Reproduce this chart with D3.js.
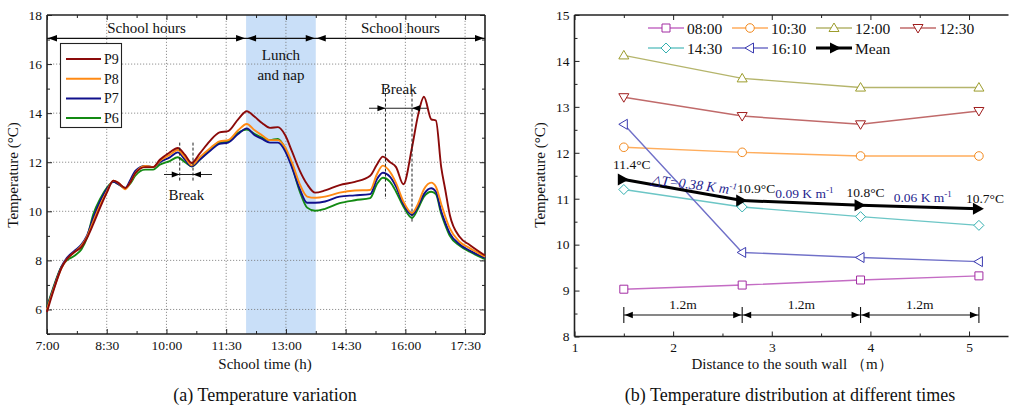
<!DOCTYPE html>
<html>
<head>
<meta charset="utf-8">
<script src="https://cdn.jsdelivr.net/npm/d3@7"></script>
<style>
  body { margin: 0; background: #fff; }
  svg text { font-family: "Liberation Serif", "Times New Roman", serif; fill: #111; }
</style>
</head>
<body>
<div id="chart"></div>
<script>
// ---- (a) temperature variation, minutes after 7:00 ----
const timeMin = [0, 9, 22, 30, 42, 52, 60, 70, 80, 90, 100, 108, 118, 126, 133, 148, 160, 170, 185, 197,
  208, 218, 230, 245, 260, 273, 288, 301, 313, 324, 336, 348, 359, 369, 381, 392, 404, 419, 441, 464,
  487, 497, 506, 517, 526, 537, 550, 559, 568, 579, 586, 594, 600, 607, 622, 637, 660];
const p9 = [5.9, 6.7, 7.7, 8.05, 8.35, 8.55, 8.9, 9.5, 10.15, 10.75, 11.25, 11.15, 10.95, 11.2, 11.55, 11.8, 11.8, 12.1, 12.4, 12.58,
  12.3, 11.97, 12.35, 12.85, 13.22, 13.27, 13.75, 14.08, 13.85, 13.6, 13.4, 13.43, 13.1, 12.45, 11.65, 11.1, 10.76, 10.85, 11.07, 11.2,
  11.45, 11.9, 12.23, 12.0, 11.8, 11.1, 12.6, 13.9, 14.67, 13.75, 13.7, 11.8, 10.9, 9.85, 8.95, 8.63, 8.2];
const p8 = [6.0, 6.75, 7.7, 8.05, 8.35, 8.6, 8.95, 9.6, 10.25, 10.8, 11.25, 11.15, 10.9, 11.2, 11.55, 11.85, 11.8, 12.05, 12.3, 12.5,
  12.2, 11.87, 12.2, 12.55, 12.85, 12.9, 13.3, 13.56, 13.3, 13.1, 12.9, 12.9, 12.6, 12.0, 11.1, 10.6, 10.55, 10.6, 10.76, 10.85,
  10.87, 11.5, 11.86, 11.6, 11.15, 10.4, 9.93, 10.3, 10.9, 11.17, 11.0, 10.3, 9.8, 9.3, 8.75, 8.5, 8.15];
const p7 = [6.05, 6.8, 7.75, 8.1, 8.4, 8.65, 9.0, 9.75, 10.4, 10.9, 11.2, 11.1, 10.95, 11.3, 11.65, 11.85, 11.8, 12.0, 12.2, 12.4,
  12.1, 11.83, 12.1, 12.45, 12.75, 12.8, 13.15, 13.38, 13.1, 12.95, 12.8, 12.8, 12.45, 11.8, 10.9, 10.35, 10.35, 10.4, 10.6, 10.65,
  10.7, 11.3, 11.57, 11.4, 11.0, 10.3, 9.85, 10.2, 10.7, 10.94, 10.8, 10.0, 9.55, 9.1, 8.65, 8.4, 8.1];
const p6 = [6.1, 6.85, 7.75, 8.0, 8.2, 8.45, 8.9, 9.9, 10.5, 10.95, 11.2, 11.1, 10.95, 11.15, 11.45, 11.7, 11.7, 11.9, 12.05, 12.2,
  12.0, 11.83, 12.1, 12.5, 12.8, 12.85, 13.2, 13.33, 13.15, 13.0, 12.9, 12.95, 12.55, 11.85, 10.8, 10.15, 10.02, 10.1, 10.33, 10.45,
  10.54, 11.1, 11.37, 11.2, 10.8, 10.2, 9.73, 10.1, 10.6, 10.8, 10.7, 9.9, 9.45, 9.0, 8.6, 8.35, 8.05];
const seriesNames = ['P9', 'P8', 'P7', 'P6'];
const seriesColors = ['#8b0a0a', '#ff8a14', '#10108c', '#138a13'];
const xTicksA = [0, 90, 180, 270, 360, 450, 540, 630];
const yTicksA = [6, 8, 10, 12, 14, 16, 18];
const periods = [[0, 300, 'School hours'], [300, 405, 'Lunch'], [405, 660, 'School hours']];
const breaks = [[200, 220], [510, 550]];

// ---- (b) temperature distribution ----
const distance = [1.5, 2.7, 3.9, 5.1];
const t0800 = [9.03, 9.12, 9.23, 9.32];
const t1030 = [12.12, 12.01, 11.93, 11.93];
const t1200 = [14.12, 13.62, 13.42, 13.42];
const t1230 = [13.21, 12.8, 12.62, 12.91];
const t1430 = [11.2, 10.82, 10.61, 10.42];
const t1610 = [12.62, 9.83, 9.72, 9.63];
const tMean = [11.42, 10.96, 10.86, 10.78];
const meanLabels = ['11.4°C', '10.9°C', '10.8°C', '10.7°C'];
const gradLabels = ['0.38', '0.09', '0.06'];
const xTicksB = [1, 2, 3, 4, 5];
const yTicksB = [8, 9, 10, 11, 12, 13, 14, 15];

const W = 1009, H = 408;
const svg = d3.select('#chart').append('svg').attr('width', W).attr('height', H);
svg.append('rect').attr('width', W).attr('height', H).attr('fill', '#fff');

function tri(g, x, y, dir, len, half, fill) {
  // arrow head with tip at x,y ; dir 1 = right, -1 = left
  g.append('path')
    .attr('d', `M${x},${y}L${x - dir * len},${y - half}L${x - dir * len},${y + half}Z`)
    .attr('fill', fill || '#000');
}

function frameAxes(g, x, y, xt, yt, xfmt, minorX, minorY, opts) {
  const [x0, x1] = x.range(), [y0, y1] = y.range();
  const ax = g.append('g').attr('class', 'axes');
  const bottom = d3.axisBottom(x).tickValues(xt).tickSize(-5).tickPadding(6).tickFormat(xfmt);
  const left = d3.axisLeft(y).tickValues(yt).tickSize(-5).tickPadding(5).tickFormat(d3.format('d'));
  ax.append('g').attr('transform', `translate(0,${y0})`).call(bottom);
  ax.append('g').attr('transform', `translate(0,${y0})`).call(d3.axisBottom(x).tickValues(minorX).tickSize(-3).tickFormat(''));
  ax.append('g').attr('transform', `translate(${x0},0)`).call(left);
  ax.append('g').attr('transform', `translate(${x0},0)`).call(d3.axisLeft(y).tickValues(minorY).tickSize(-3).tickFormat(''));
  ax.append('g').attr('transform', `translate(0,${y1})`).call(d3.axisTop(x).tickValues(xt).tickSize(-5).tickFormat(''));
  ax.append('g').attr('transform', `translate(0,${y1})`).call(d3.axisTop(x).tickValues(minorX).tickSize(-3).tickFormat(''));
  if (opts.right) {
    ax.append('g').attr('transform', `translate(${x1},0)`).call(d3.axisRight(y).tickValues(yt).tickSize(-5).tickFormat(''));
    ax.append('g').attr('transform', `translate(${x1},0)`).call(d3.axisRight(y).tickValues(minorY).tickSize(-3).tickFormat(''));
  }
  ax.selectAll('.domain').remove();
  ax.selectAll('.tick line').attr('stroke', '#222').attr('stroke-width', 1);
  ax.selectAll('.tick text').attr('font-size', 13.5).attr('fill', '#111')
    .style('font-family', '"Liberation Serif", "Times New Roman", serif');
  const f = g.append('g').attr('fill', 'none').attr('stroke', '#222').attr('stroke-width', 1.6);
  f.append('line').attr('x1', x0).attr('x2', x1).attr('y1', y0).attr('y2', y0);
  f.append('line').attr('x1', x0).attr('x2', x1).attr('y1', y1).attr('y2', y1);
  f.append('line').attr('x1', x0).attr('x2', x0).attr('y1', y0).attr('y2', y1);
  if (opts.right) f.append('line').attr('x1', x1).attr('x2', x1).attr('y1', y0).attr('y2', y1);
}

// ================= (a) =================
const gA = svg.append('g');
const xA = d3.scaleLinear().domain([0, 660]).range([47, 485]);
const yA = d3.scaleLinear().domain([5, 18]).range([334, 15]);

// lunch shading
gA.append('rect').attr('x', xA(300)).attr('y', yA(18)).attr('width', xA(405) - xA(300))
  .attr('height', yA(5) - yA(18)).attr('fill', '#c9dff8');

// grid
const grid = gA.append('g').attr('stroke', '#777').attr('stroke-width', 0.8).attr('stroke-dasharray', '1.2,1.8');
xTicksA.filter(d => d > 0).forEach(d => grid.append('line').attr('x1', xA(d)).attr('x2', xA(d)).attr('y1', yA(5)).attr('y2', yA(18)));
yTicksA.filter(d => d < 18).forEach(d => grid.append('line').attr('x1', xA(0)).attr('x2', xA(660)).attr('y1', yA(d)).attr('y2', yA(d)));

const fmtTime = m => `${Math.floor(7 + m / 60)}:${String(m % 60).padStart(2, '0')}`;
frameAxes(gA, xA, yA, xTicksA, yTicksA, fmtTime,
  [45, 135, 225, 315, 405, 495, 585], [5, 7, 9, 11, 13, 15, 17], { right: true });

// period arrows
const yPer = yA(17.05);
gA.append('line').attr('x1', xA(0)).attr('x2', xA(660)).attr('y1', yPer).attr('y2', yPer)
  .attr('stroke', '#111').attr('stroke-width', 1.2);
periods.forEach(p => {
  tri(gA, xA(p[0]) + 1, yPer, -1, 9, 3.2);
  tri(gA, xA(p[1]) - 1, yPer, 1, 9, 3.2);
  if (p[2] === 'School hours') {
    gA.append('text').attr('x', xA((p[0] + p[1]) / 2)).attr('y', 33).attr('text-anchor', 'middle')
      .attr('font-size', 15).text(p[2]);
  } else {
    gA.append('text').attr('x', xA((p[0] + p[1]) / 2)).attr('y', 60).attr('text-anchor', 'middle')
      .attr('font-size', 15).text('Lunch');
    gA.append('text').attr('x', xA((p[0] + p[1]) / 2)).attr('y', 80).attr('text-anchor', 'middle')
      .attr('font-size', 15).text('and nap');
  }
});

// lines
const lineA = d3.line().x((d, i) => xA(timeMin[i])).y(d => yA(d)).curve(d3.curveMonotoneX);
const seriesA = [p9, p8, p7, p6];
[p6, p7, p8, p9].forEach(s => {
  const i = seriesA.indexOf(s);
  gA.append('path').attr('d', lineA(s)).attr('fill', 'none')
    .attr('stroke', seriesColors[i]).attr('stroke-width', 1.9);
});

// break annotations
const brk = [
  { b: breaks[0], yA: 11.5, top: 12.8, bot: [11.2, 11.2], ext: [164, 212], label: 10.45 },
  { b: breaks[1], yA: 14.2, top: 15.0, bot: [10.5, 9.5], ext: [369, 427], label: 14.78 }
];
brk.forEach(o => {
  const xa = xA(o.b[0]), xb = xA(o.b[1]), yy = yA(o.yA);
  gA.append('line').attr('x1', xa).attr('x2', xa).attr('y1', yA(o.top)).attr('y2', yA(o.bot[0]))
    .attr('stroke', '#222').attr('stroke-dasharray', '3,2').attr('stroke-width', 1);
  gA.append('line').attr('x1', xb).attr('x2', xb).attr('y1', yA(o.top)).attr('y2', yA(o.bot[1]))
    .attr('stroke', '#222').attr('stroke-dasharray', '3,2').attr('stroke-width', 1);
  gA.append('line').attr('x1', o.ext[0]).attr('x2', o.ext[1]).attr('y1', yy).attr('y2', yy)
    .attr('stroke', '#222').attr('stroke-width', 1.1);
  tri(gA, xa, yy, 1, 8, 3);
  tri(gA, xb, yy, -1, 8, 3);
  gA.append('text').attr('x', xA((o.b[0] + o.b[1]) / 2)).attr('y', yA(o.label))
    .attr('text-anchor', 'middle').attr('font-size', 15).text('Break');
});

// legend
const lg = gA.append('g');
lg.append('rect').attr('x', 60.5).attr('y', 43.5).attr('width', 61).attr('height', 84)
  .attr('fill', '#fff').attr('stroke', '#222').attr('stroke-width', 1.1);
seriesNames.forEach((n, i) => {
  const yy = 59 + i * 19.7;
  lg.append('line').attr('x1', 66).attr('x2', 101).attr('y1', yy).attr('y2', yy)
    .attr('stroke', seriesColors[i]).attr('stroke-width', 2);
  lg.append('text').attr('x', 104).attr('y', yy + 5).attr('font-size', 14).text(n);
});

gA.append('text').attr('transform', 'translate(18,175) rotate(-90)').attr('text-anchor', 'middle')
  .attr('font-size', 15).text('Temperature (°C)');
gA.append('text').attr('x', 265).attr('y', 369).attr('text-anchor', 'middle').attr('font-size', 15)
  .text('School time (h)');
gA.append('text').attr('x', 265).attr('y', 401).attr('text-anchor', 'middle').attr('font-size', 18)
  .text('(a) Temperature variation');

// ================= (b) =================
const gB = svg.append('g');
const xB = d3.scaleLinear().domain([1, 5.4]).range([574.5, 1008.5]);
const yB = d3.scaleLinear().domain([8, 15]).range([336.5, 15]);

frameAxes(gB, xB, yB, xTicksB, yTicksB, d3.format('d'),
  [1.5, 2.5, 3.5, 4.5, 5.5].filter(d => d < 5.4), [8.5, 9.5, 10.5, 11.5, 12.5, 13.5, 14.5], { right: false });

const seriesB = [
  { name: '08:00', v: t0800, c: '#c46cc4', m: '#a22ca2', sym: 'square' },
  { name: '10:30', v: t1030, c: '#ffad5c', m: '#f28a20', sym: 'circle' },
  { name: '12:00', v: t1200, c: '#b5b56c', m: '#9c9c2c', sym: 'up' },
  { name: '12:30', v: t1230, c: '#c06a6a', m: '#a01e1e', sym: 'down' },
  { name: '14:30', v: t1430, c: '#6cc6c6', m: '#35b0b0', sym: 'diamond' },
  { name: '16:10', v: t1610, c: '#7070c8', m: '#3a3ab0', sym: 'left' }
];

function marker(g, x, y, sym, col) {
  const s = 4;
  let d;
  if (sym === 'square') d = `M${x - s},${y - s}h${2 * s}v${2 * s}h${-2 * s}Z`;
  else if (sym === 'diamond') d = `M${x},${y - 5}L${x + 5},${y}L${x},${y + 5}L${x - 5},${y}Z`;
  else if (sym === 'up') d = `M${x},${y - 5}L${x + 5},${y + 3.5}L${x - 5},${y + 3.5}Z`;
  else if (sym === 'down') d = `M${x},${y + 5}L${x + 5},${y - 3.5}L${x - 5},${y - 3.5}Z`;
  else if (sym === 'left') d = `M${x - 5},${y}L${x + 3.5},${y - 5}L${x + 3.5},${y + 5}Z`;
  if (sym === 'circle') {
    g.append('circle').attr('cx', x).attr('cy', y).attr('r', 4.3).attr('fill', '#fff')
      .attr('stroke', col).attr('stroke-width', 1);
  } else {
    g.append('path').attr('d', d).attr('fill', '#fff').attr('stroke', col).attr('stroke-width', 1);
  }
}

const lineB = d3.line().x((d, i) => xB(distance[i])).y(d => yB(d));
seriesB.forEach(s => {
  gB.append('path').attr('d', lineB(s.v)).attr('fill', 'none').attr('stroke', s.c).attr('stroke-width', 1.4);
  s.v.forEach((v, i) => marker(gB, xB(distance[i]), yB(v), s.sym, s.m));
});

// mean line with arrow markers
const meanDx = [8, 14, 5, 6], meanDy = [-10, -8, -8, -6];
gB.append('path').attr('d', lineB(tMean)).attr('fill', 'none').attr('stroke', '#000').attr('stroke-width', 3);
tMean.forEach((v, i) => {
  tri(gB, xB(distance[i]) + 5, yB(v), 1, 11, 6);
  gB.append('text').attr('x', xB(distance[i]) + meanDx[i]).attr('y', yB(v) + meanDy[i]).attr('text-anchor', 'middle')
    .attr('font-size', 13.5).text(meanLabels[i]);
});
// gradient labels
const blue = '#1f1f8f';
const g0x = 650, g0y = 184;
const t0 = gB.append('text').attr('x', g0x).attr('y', g0y).attr('font-size', 14).attr('font-style', 'italic')
  .attr('transform', `rotate(7,${g0x},${g0y})`).style('fill', blue);
t0.append('tspan').text(`△T=${gradLabels[0]} K m`);
t0.append('tspan').attr('dy', -5).attr('font-size', 9).text('-1');
[1, 2].forEach(i => {
  const mx = xB((distance[i] + distance[i + 1]) / 2) + 3;
  const my = (yB(tMean[i]) + yB(tMean[i + 1])) / 2 - 5;
  const t = gB.append('text').attr('x', mx).attr('y', my).attr('text-anchor', 'middle')
    .attr('font-size', 13.5).style('fill', blue);
  t.append('tspan').text(`${gradLabels[i]} K m`);
  t.append('tspan').attr('dy', -5).attr('font-size', 9).text('-1');
});

// 1.2 m spacing annotation
const yDim = 315;
gB.append('line').attr('x1', xB(distance[0])).attr('x2', xB(distance[3])).attr('y1', yDim).attr('y2', yDim)
  .attr('stroke', '#111').attr('stroke-width', 1.1);
distance.forEach(d => gB.append('line').attr('x1', xB(d)).attr('x2', xB(d)).attr('y1', yDim - 8).attr('y2', yDim + 8)
  .attr('stroke', '#111').attr('stroke-width', 1.1));
for (let i = 0; i < 3; i++) {
  tri(gB, xB(distance[i]) + 1, yDim, -1, 8, 3.2);
  tri(gB, xB(distance[i + 1]) - 1, yDim, 1, 8, 3.2);
  gB.append('text').attr('x', xB((distance[i] + distance[i + 1]) / 2)).attr('y', yDim - 6)
    .attr('text-anchor', 'middle').attr('font-size', 13.5).text(`${(distance[i + 1] - distance[i]).toFixed(1)}m`);
}

// legend
const legB = gB.append('g');
const legItems = seriesB.concat([{ name: 'Mean', mean: true }]);
legItems.forEach((s, i) => {
  const col = i < 4 ? i : i - 4, row = i < 4 ? 0 : 1;
  const lx = 648 + col * 84, ly = 28 + row * 20;
  if (s.mean) {
    legB.append('line').attr('x1', lx).attr('x2', lx + 36).attr('y1', ly).attr('y2', ly)
      .attr('stroke', '#000').attr('stroke-width', 3);
    tri(legB, lx + 25, ly, 1, 11, 5.5);
  } else {
    legB.append('line').attr('x1', lx).attr('x2', lx + 36).attr('y1', ly).attr('y2', ly)
      .attr('stroke', s.c).attr('stroke-width', 1.4);
    marker(legB, lx + 18, ly, s.sym, s.m);
  }
  legB.append('text').attr('x', lx + 39).attr('y', ly + 5.5).attr('font-size', 15.5).text(s.name);
});

gB.append('text').attr('transform', 'translate(545,175) rotate(-90)').attr('text-anchor', 'middle')
  .attr('font-size', 15).text('Temperature (°C)');
gB.append('text').attr('x', 792).attr('y', 369).attr('text-anchor', 'middle').attr('font-size', 15)
  .text('Distance to the south wall （m）');
gB.append('text').attr('x', 790).attr('y', 401).attr('text-anchor', 'middle').attr('font-size', 18)
  .text('(b) Temperature distribution at different times');
</script>
</body>
</html>
